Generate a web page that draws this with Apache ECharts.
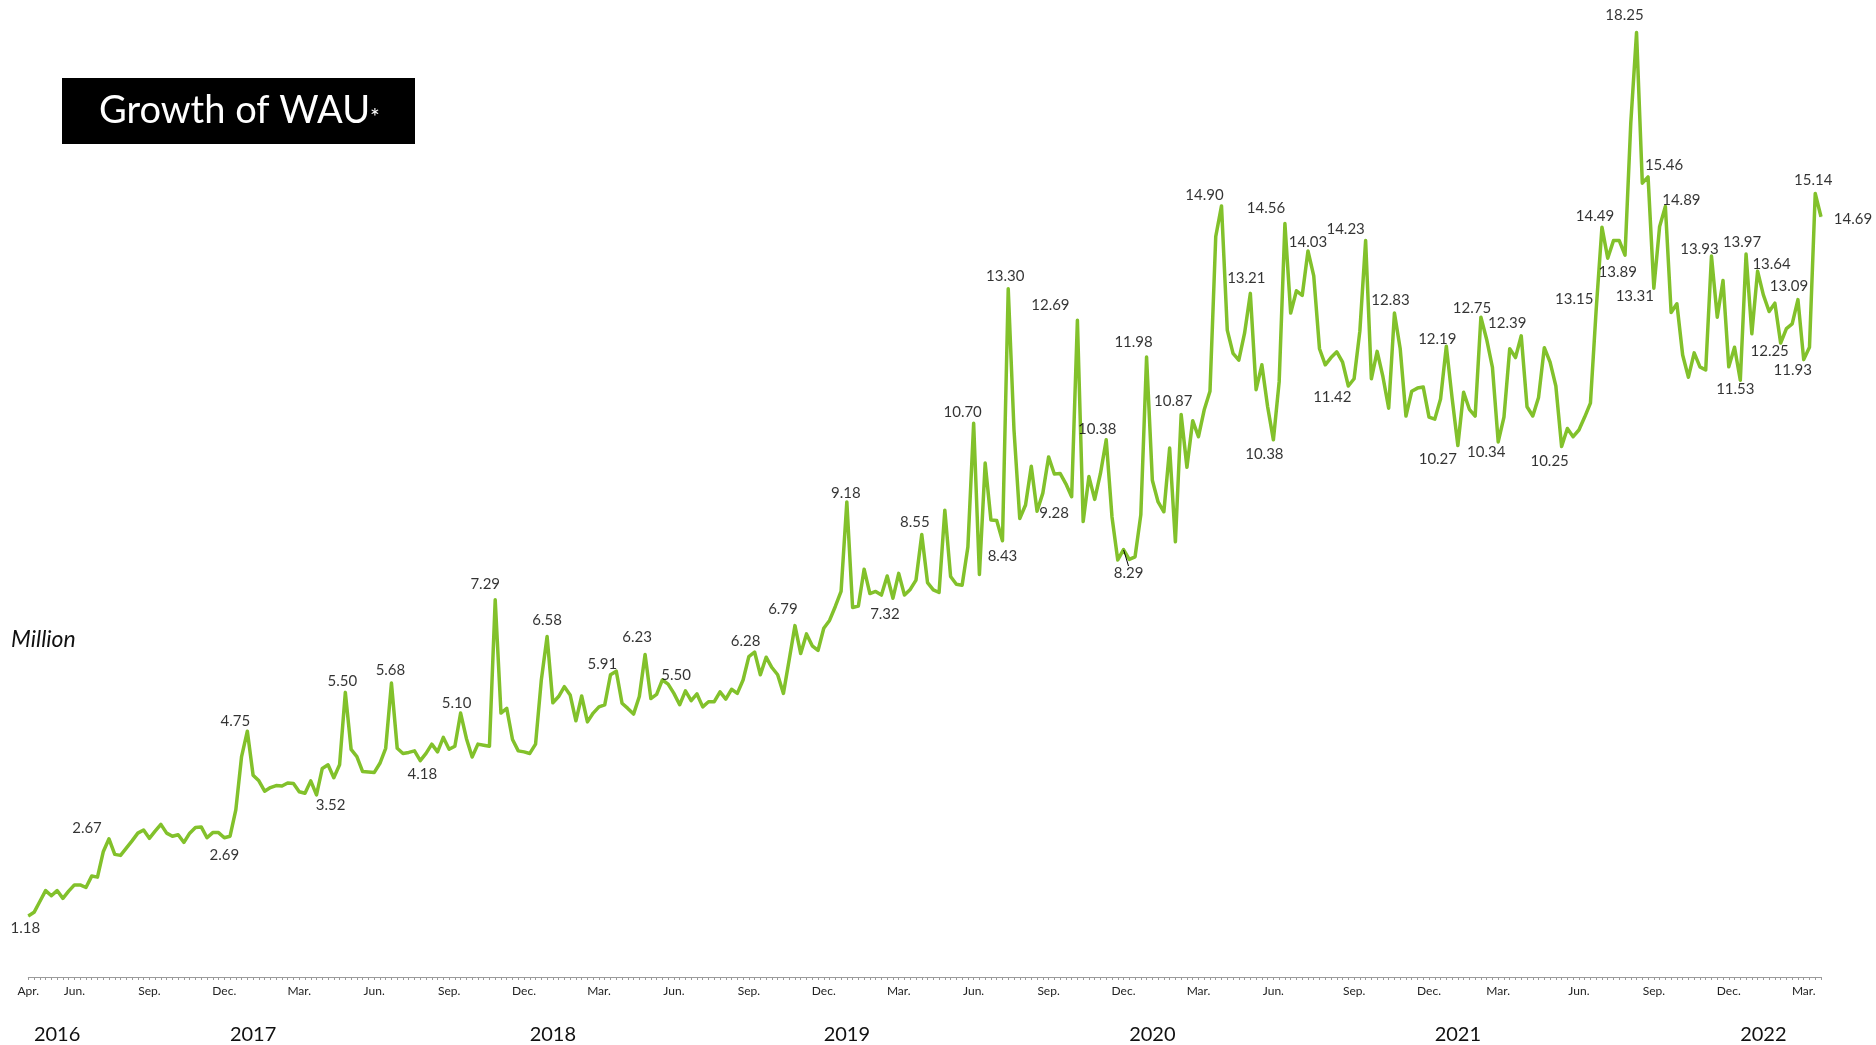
<!DOCTYPE html>
<html>
<head>
<meta charset="utf-8">
<title>Growth of WAU</title>
<script src="https://cdn.jsdelivr.net/npm/echarts@6/dist/echarts.min.js"></script>
<style>
  html, body { margin: 0; padding: 0; background: #fff; }
  #chart { width: 1876px; height: 1045px; }
</style>
</head>
<body>
<div id="chart"></div>
<script>
// weekly active users, million (one value per week, Apr 2016 - Mar 2022)
var wau = [
  1.18, 1.25, 1.46, 1.67, 1.57, 1.67, 1.52, 1.66, 1.78, 1.78,
  1.73, 1.95, 1.93, 2.42, 2.67, 2.37, 2.35, 2.49, 2.63, 2.78,
  2.84, 2.68, 2.82, 2.95, 2.78, 2.72, 2.75, 2.60, 2.78, 2.89,
  2.90, 2.69, 2.79, 2.79, 2.69, 2.72, 3.23, 4.26, 4.75, 3.90,
  3.79, 3.59, 3.66, 3.70, 3.69, 3.75, 3.74, 3.58, 3.55, 3.79,
  3.52, 4.03, 4.10, 3.85, 4.10, 5.50, 4.40, 4.26, 3.97, 3.96,
  3.95, 4.13, 4.42, 5.68, 4.42, 4.32, 4.34, 4.37, 4.18, 4.32,
  4.50, 4.35, 4.63, 4.40, 4.46, 5.10, 4.61, 4.25, 4.50, 4.48,
  4.46, 7.29, 5.10, 5.19, 4.59, 4.37, 4.35, 4.32, 4.50, 5.74,
  6.58, 5.30, 5.42, 5.61, 5.45, 4.95, 5.43, 4.93, 5.10, 5.22,
  5.26, 5.84, 5.91, 5.29, 5.19, 5.08, 5.42, 6.23, 5.38, 5.46,
  5.74, 5.66, 5.48, 5.26, 5.53, 5.34, 5.47, 5.22, 5.32, 5.32,
  5.51, 5.37, 5.56, 5.48, 5.74, 6.19, 6.28, 5.84, 6.18, 5.98,
  5.84, 5.48, 6.13, 6.79, 6.25, 6.63, 6.40, 6.31, 6.74, 6.89,
  7.16, 7.45, 9.18, 7.14, 7.17, 7.88, 7.41, 7.45, 7.38, 7.75,
  7.32, 7.80, 7.38, 7.49, 7.67, 8.55, 7.62, 7.48, 7.43, 9.02,
  7.74, 7.59, 7.57, 8.31, 10.70, 7.78, 9.93, 8.83, 8.82, 8.43,
  13.30, 10.57, 8.86, 9.12, 9.87, 9.00, 9.35, 10.05, 9.72, 9.73,
  9.53, 9.28, 12.69, 8.80, 9.67, 9.23, 9.73, 10.38, 8.89, 8.06,
  8.26, 8.07, 8.12, 8.93, 11.98, 9.60, 9.18, 8.99, 10.22, 8.41,
  10.87, 9.85, 10.75, 10.44, 10.96, 11.32, 14.31, 14.90, 12.50, 12.05,
  11.92, 12.44, 13.21, 11.35, 11.83, 11.02, 10.38, 11.50, 14.56, 12.83,
  13.26, 13.17, 14.03, 13.55, 12.14, 11.83, 11.97, 12.08, 11.88, 11.42,
  11.56, 12.48, 14.23, 11.56, 12.09, 11.60, 10.99, 12.83, 12.14, 10.84,
  11.32, 11.38, 11.40, 10.82, 10.78, 11.17, 12.19, 11.19, 10.27, 11.30,
  10.97, 10.84, 12.75, 12.32, 11.78, 10.34, 10.82, 12.14, 11.97, 12.39,
  11.02, 10.84, 11.20, 12.16, 11.88, 11.42, 10.25, 10.60, 10.44, 10.57,
  10.82, 11.09, 12.90, 14.49, 13.89, 14.23, 14.23, 13.95, 16.50, 18.25,
  15.34, 15.46, 13.31, 14.50, 14.89, 12.84, 13.01, 12.02, 11.59, 12.06,
  11.79, 11.73, 13.93, 12.75, 13.46, 11.79, 12.17, 11.53, 13.97, 12.43,
  13.64, 13.18, 12.86, 13.02, 12.25, 12.53, 12.62, 13.09, 11.93, 12.17,
  15.14, 14.69
];

// annotated weeks and the text written next to them
var calloutIdx = [0, 14, 34, 38, 50, 55, 63, 68, 75, 81, 90, 102, 107, 111, 126, 133, 142, 150, 155, 164,
  169, 170, 175, 182, 187, 190, 194, 200, 207, 212, 216, 218, 222, 229, 232, 237, 246, 248, 252, 255,
  259, 266, 272, 273, 274, 279, 281, 282, 284, 292, 297, 298, 300, 304, 307, 308, 310, 311];
var calloutText = ['1.18', '2.67', '2.69', '4.75', '3.52', '5.50', '5.68', '4.18', '5.10', '7.29', '6.58', '5.91', '6.23', '5.50', '6.28', '6.79', '9.18', '7.32', '8.55', '10.70',
  '8.43', '13.30', '9.28', '12.69', '10.38', '8.29', '11.98', '10.87', '14.90', '13.21', '10.38', '14.56', '14.03', '11.42', '14.23', '12.83', '12.19', '10.27', '12.75', '10.34',
  '12.39', '10.25', '13.15', '14.49', '13.89', '18.25', '15.46', '13.31', '14.89', '13.93', '11.53', '13.97', '13.64', '12.25', '13.09', '11.93', '15.14', '14.69'];

// axis labels
var monthIdx = [0, 8, 21, 34, 47, 60, 73, 86, 99, 112, 125, 138, 151, 164, 177, 190, 203, 216, 230, 243, 255, 269, 282, 295, 308];
var monthText = ['Apr.', 'Jun.', 'Sep.', 'Dec.', 'Mar.', 'Jun.', 'Sep.', 'Dec.', 'Mar.', 'Jun.', 'Sep.', 'Dec.', 'Mar.', 'Jun.', 'Sep.', 'Dec.', 'Mar.', 'Jun.', 'Sep.', 'Dec.', 'Mar.', 'Jun.', 'Sep.', 'Dec.', 'Mar.'];
var yearIdx = [5, 39, 91, 142, 195, 248, 301];
var yearText = ['2016', '2017', '2018', '2019', '2020', '2021', '2022'];

// label placement (pixel offset from the point), layout only
var calloutOffset = [[-3, 12], [-22, -11], [0, 17], [-12, -10], [14, 10], [-3, -11], [-1, -13], [2, 13], [-4, -10], [-10, -16],
  [0, -16], [-14, -7], [-8, -17], [8, -9], [-9, -11], [-12, -16], [-1, -9], [-8, 16], [-7, -12], [-11, -11],
  [0, 15], [-3, -13], [17, 2], [-27, -15], [-9, -11], [5, 24], [-13, -15], [-8, -13], [-17, -11], [-4, -15],
  [-9, 14], [-19, -15], [0, -9], [-16, 11], [-20, -11], [-4, -13], [-9, -7], [-20, 14], [-9, -9], [-12, 10],
  [-14, -13], [-12, 15], [-22, -10], [-7, -11], [10, 14], [-12, -17], [16, -12], [-19, 8], [16, -6], [-12, -7],
  [-5, 9], [-4, -12], [14, -7], [-11, 8], [-9, -13], [-11, 11], [-2, -13], [32, 2]];

var weeks = [];
var start = Date.UTC(2016, 3, 4);
for (var i = 0; i < wau.length; i++) {
  weeks.push(new Date(start + i * 7 * 86400000).toISOString().slice(0, 10));
}

var callouts = calloutIdx.map(function (idx, k) {
  var item = {
    value: [idx, wau[idx]],
    label: { offset: calloutOffset[k] }
  };
  if (calloutText[k] === '8.29') {
    item.labelLine = { show: true, lineStyle: { color: '#000', width: 1 } };
  }
  return item;
});

var chart = echarts.init(document.getElementById('chart'));

chart.setOption({
  animation: false,
  backgroundColor: '#fff',
  title: {
    text: 'Growth of WAU{s|*}',
    left: 62,
    top: 79,
    backgroundColor: '#000',
    padding: [14, 0, 14, 37],
    textStyle: {
      color: '#fff',
      fontFamily: 'Lato',
      fontSize: 38,
      fontWeight: 'normal',
      lineHeight: 36,
      width: 316,
      rich: {
        s: { color: '#fff', fontFamily: 'Lato', fontSize: 23, lineHeight: 31, verticalAlign: 'bottom' }
      }
    }
  },
  graphic: [{
    type: 'text',
    left: 11,
    top: 628,
    style: { text: 'Million', font: 'italic 23px Lato', fill: '#111' }
  }],
  grid: { left: 28.3, right: 55, top: 4.1, bottom: 68 },
  xAxis: [{
    type: 'category',
    data: weeks,
    boundaryGap: false,
    axisLine: { lineStyle: { color: '#9a9a9a', width: 1 } },
    axisTick: { show: true, interval: 0, length: 3, lineStyle: { color: '#9a9a9a' } },
    axisLabel: {
      interval: function (index) { return monthIdx.indexOf(index) >= 0; },
      formatter: function (value, index) { return monthText[monthIdx.indexOf(index)]; },
      fontFamily: 'Lato',
      fontSize: 12,
      color: '#222',
      margin: 8
    },
    splitLine: { show: false }
  }, {
    type: 'category',
    data: weeks,
    boundaryGap: false,
    position: 'bottom',
    axisLine: { show: false },
    axisTick: { show: false },
    axisLabel: {
      interval: function (index) { return yearIdx.indexOf(index) >= 0; },
      formatter: function (value, index) { return yearText[yearIdx.indexOf(index)]; },
      fontFamily: 'Lato',
      fontSize: 20,
      color: '#111',
      margin: 48
    },
    splitLine: { show: false }
  }],
  yAxis: {
    type: 'value',
    min: 0,
    max: 18.8,
    show: false
  },
  series: [{
    type: 'line',
    data: wau,
    symbol: 'none',
    lineStyle: { color: '#82C12B', width: 3.5, join: 'round' },
    z: 2
  }, {
    type: 'scatter',
    data: callouts,
    symbolSize: 1,
    itemStyle: { color: '#82C12B' },
    label: {
      show: true,
      position: 'inside',
      align: 'center',
      verticalAlign: 'middle',
      fontFamily: 'Lato',
      fontSize: 15,
      color: '#000',
      formatter: function (p) { return calloutText[calloutIdx.indexOf(p.value[0])]; }
    },
    z: 3
  }]
});
</script>
</body>
</html>
